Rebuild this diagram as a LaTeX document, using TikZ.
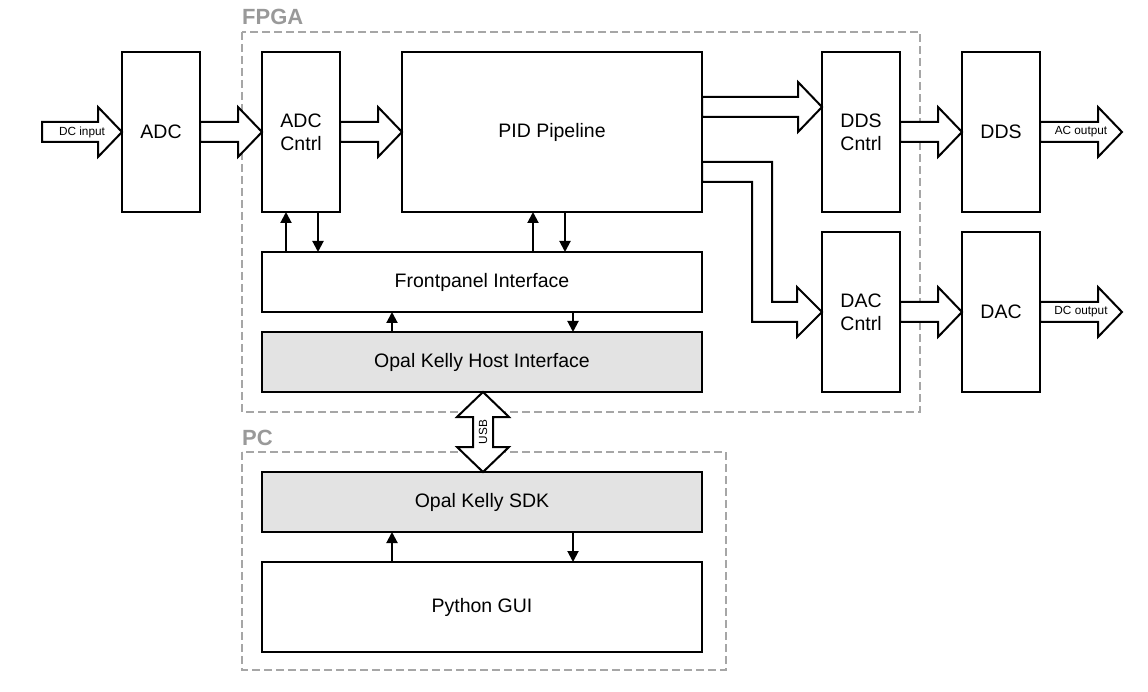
\documentclass[tikz,border=0pt]{standalone}
\usepackage{fontspec}
\setmainfont{Liberation Sans}
\usetikzlibrary{calc,arrows.meta}
\definecolor{framegray}{HTML}{A6A6A6}
\definecolor{labelgray}{HTML}{999999}
\definecolor{boxgray}{HTML}{E3E3E3}
\newcommand{\mainfs}{\fontsize{19.5}{23}\selectfont}
\newcommand{\smallfs}{\fontsize{11.8}{14}\selectfont}
\newcommand{\hbarrow}[2]{%
  \draw[barrow] let \p1=(#1), \p2=(#2) in
    (\x1,\y1+10pt) -- (\x2-24pt,\y1+10pt) -- (\x2-24pt,\y1+25pt) -- (\x2,\y1)
    -- (\x2-24pt,\y1-25pt) -- (\x2-24pt,\y1-10pt) -- (\x1,\y1-10pt) -- cycle;}
\begin{document}
\begin{tikzpicture}[x=1pt,y=-1pt,
  box/.style={draw,line width=2pt,inner sep=0pt,outer sep=0pt,align=center,font=\mainfs,fill=white},
  tallbox/.style={box,minimum width=78pt,minimum height=160pt},
  widebox/.style={box,minimum width=440pt,minimum height=60pt},
  frame/.style={draw=framegray,line width=2pt,dash pattern=on 8pt off 4pt},
  framelabel/.style={anchor=base west,inner sep=0pt,text=labelgray,font=\fontsize{22}{26}\selectfont\bfseries},
  barrow/.style={draw,fill=white,line width=2pt,line join=miter},
  sarr/.style={line width=2pt,-{Triangle[width=11pt,length=11pt]}},
  small/.style={font=\smallfs,inner sep=0pt}]
\useasboundingbox (0,0) rectangle (1148,692);
% frames
\draw[frame] (242,32) rectangle (920,412);
\draw[frame] (242,452) rectangle (726,670);
\node[framelabel] (fpgalbl) at (242,25) {FPGA};
\node[framelabel] (pclbl) at (242,445) {PC};
% boxes
\node[tallbox] (adc) at (161,132) {ADC};
\node[tallbox] (adcc) at (301,132) {ADC\\Cntrl};
\node[box,minimum width=300pt,minimum height=160pt] (pid) at (552,132) {PID Pipeline};
\node[tallbox] (ddsc) at (861,132) {DDS\\Cntrl};
\node[tallbox] (dds) at (1001,132) {DDS};
\node[tallbox] (dacc) at (861,312) {DAC\\Cntrl};
\node[tallbox] (dac) at (1001,312) {DAC};
\node[widebox] (fp) at (482,282) {Frontpanel Interface};
\node[widebox,fill=boxgray] (host) at (482,362) {Opal Kelly Host Interface};
\node[widebox,fill=boxgray] (sdk) at (482,502) {Opal Kelly SDK};
\node[box,minimum width=440pt,minimum height=90pt] (gui) at (482,607) {Python GUI};
% free ends
\coordinate (dcin) at (42,132);
\coordinate (acout) at (1122,132);
\coordinate (dcout) at (1122,312);
\coordinate (pidA) at ($(pid.east)+(0,-25)$);
% block arrows
\hbarrow{dcin}{adc.west}
\hbarrow{adc.east}{adcc.west}
\hbarrow{adcc.east}{pid.west}
\hbarrow{pidA}{ddsc.west}
\hbarrow{ddsc.east}{dds.west}
\hbarrow{dacc.east}{dac.west}
\hbarrow{dds.east}{acout}
\hbarrow{dac.east}{dcout}
\node[small] (dcinlbl) at ($(dcin)!0.5!(adc.west)$) {DC input};
\node[small] (acoutlbl) at ($(dds.east)!0.5!(acout)$) {AC output};
\node[small] (dcoutlbl) at ($(dac.east)!0.5!(dcout)$) {DC output};
% bent arrow PID -> DAC Cntrl
\draw[barrow] let \p1=(pid.east), \p2=(dacc.west) in
  (\x1,\y1-30pt) -- (\x2-50pt,\y1-30pt) -- (\x2-50pt,\y2+10pt) -- (\x2-25pt,\y2+10pt)
  -- (\x2-25pt,\y2+25pt) -- (\x2,\y2) -- (\x2-25pt,\y2-25pt) -- (\x2-25pt,\y2-10pt)
  -- (\x2-70pt,\y2-10pt) -- (\x2-70pt,\y1-50pt) -- (\x1,\y1-50pt) -- cycle;
% USB double arrow
\draw[barrow] let \p1=(host.south), \p2=(sdk.north) in
  (\x1+1pt,\y1) -- (\x1+27pt,\y1-25pt) -- (\x1+11pt,\y1-25pt) -- (\x1+11pt,\y2+25pt)
  -- (\x1+27pt,\y2+25pt) -- (\x1+1pt,\y2) -- (\x1-25pt,\y2+25pt) -- (\x1-9pt,\y2+25pt)
  -- (\x1-9pt,\y1-25pt) -- (\x1-25pt,\y1-25pt) -- cycle;
\node[small,rotate=90] (usb) at ($($(host.south)!0.5!(sdk.north)$)+(1,0)$) {USB};
% small arrows
\draw[sarr] ($(fp.north west)+(24,0)$) -- ($(adcc.south west)+(24,0)$);
\draw[sarr] ($(adcc.south west)+(56,0)$) -- ($(fp.north west)+(56,0)$);
\draw[sarr] ($(fp.north west)+(271,0)$) -- ($(pid.south west)+(131,0)$);
\draw[sarr] ($(pid.south west)+(163,0)$) -- ($(fp.north west)+(303,0)$);
\draw[sarr] ($(host.north west)+(130,0)$) -- ($(fp.south west)+(130,0)$);
\draw[sarr] ($(fp.south west)+(311,0)$) -- ($(host.north west)+(311,0)$);
\draw[sarr] ($(gui.north west)+(130,0)$) -- ($(sdk.south west)+(130,0)$);
\draw[sarr] ($(sdk.south west)+(311,0)$) -- ($(gui.north west)+(311,0)$);
\end{tikzpicture}
\end{document}
